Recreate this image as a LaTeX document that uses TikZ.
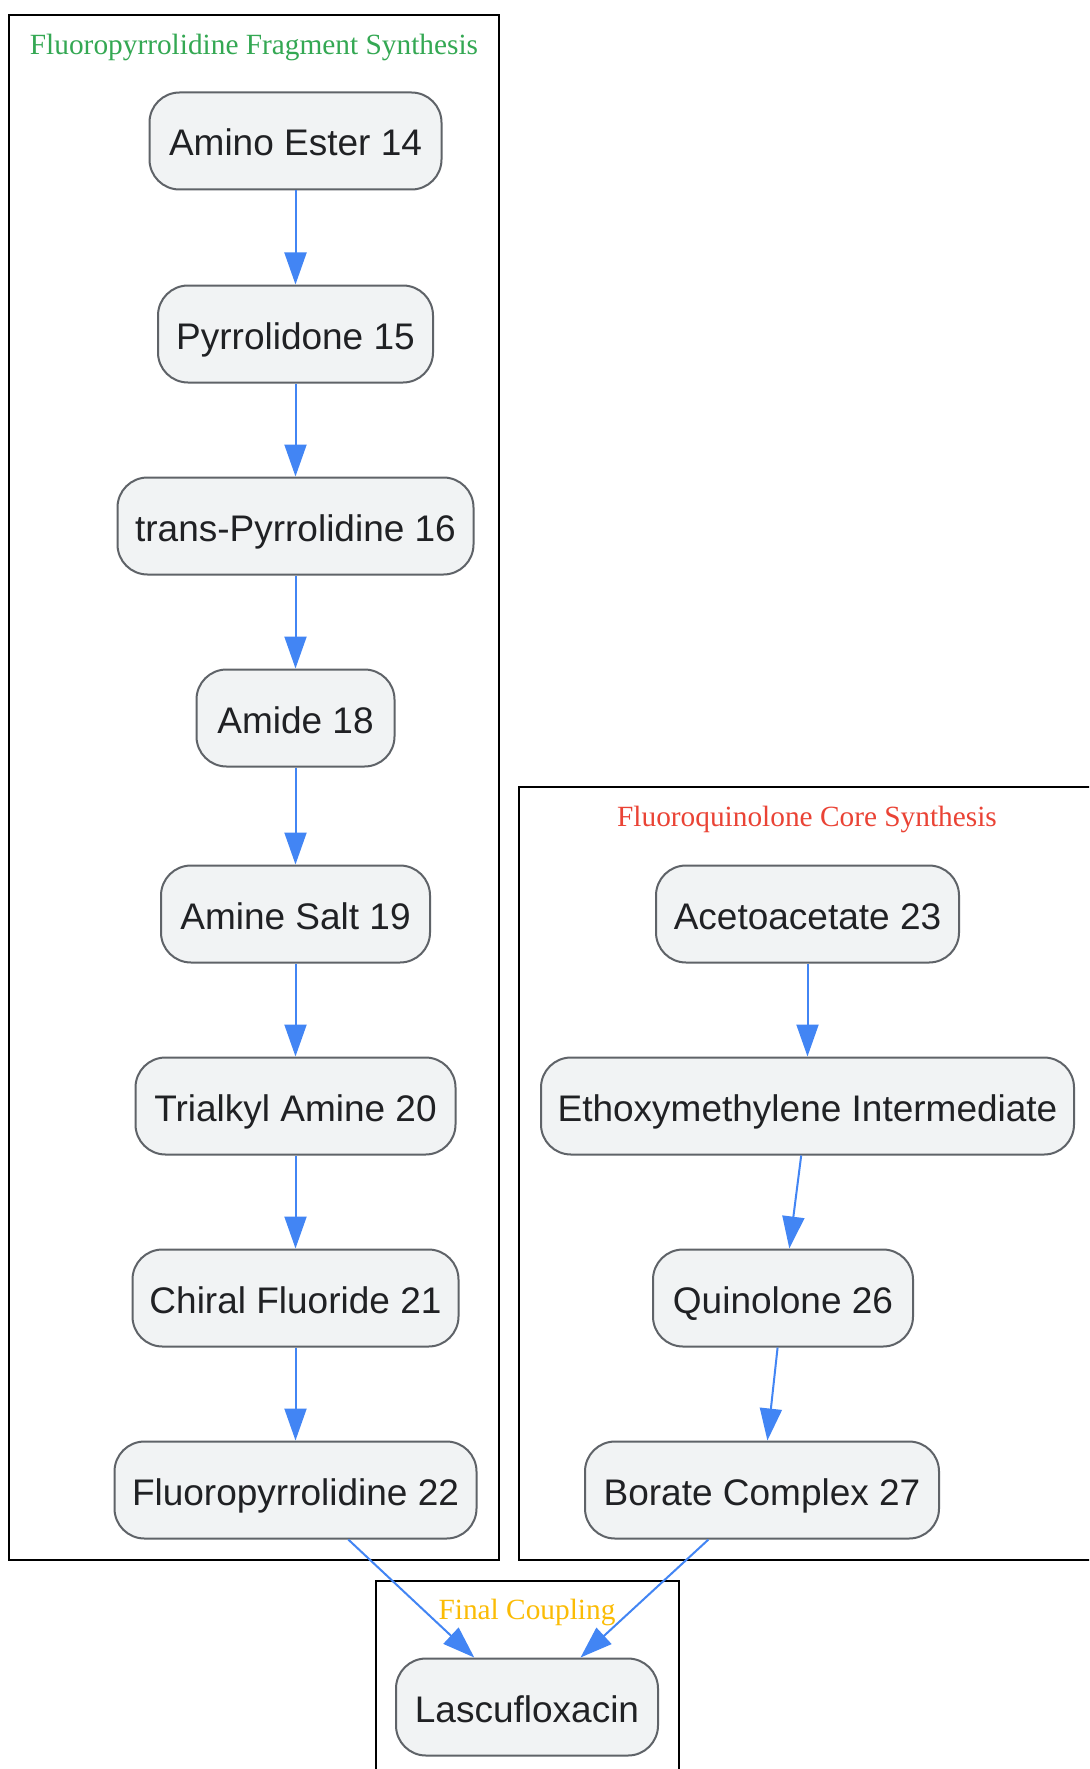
\documentclass[tikz,border=0pt]{standalone}
\usepackage{fontspec}
\setmainfont{Liberation Serif}
\newfontfamily\nodefont{Liberation Sans}
\usetikzlibrary{arrows.meta}
\definecolor{nodefill}{HTML}{F1F3F4}
\definecolor{nodeborder}{HTML}{5F6368}
\definecolor{nodetext}{HTML}{202124}
\definecolor{edgeblue}{HTML}{4285F4}
\definecolor{lblgreen}{HTML}{34A853}
\definecolor{lblred}{HTML}{EA4335}
\definecolor{lblamber}{HTML}{FBBC05}
\tikzset{
  stepbox/.style={draw=nodeborder, line width=1.5pt, fill=nodefill, text=nodetext,
    rounded corners=22.5pt, minimum height=72.75pt, inner sep=0pt,
    text height=26pt, text depth=3.5pt,
    font=\nodefont\fontsize{27.75pt}{32pt}\selectfont},
  bw/.style={minimum width=#1*0.75pt},
  flow/.style={draw=edgeblue, line width=1.5pt, -{Triangle[length=24pt,width=16.5pt]}},
  clusterbox/.style={draw=black, line width=1.6pt},
  clusterlbl/.style={font=\fontsize{22pt}{26pt}\selectfont, inner sep=0pt}
}
\begin{document}
\begin{tikzpicture}[x=0.75pt,y=-0.75pt]
\useasboundingbox (0,0) rectangle (1089,1769);
\clip (0,0) rectangle (1089,1769);
\fill[white] (0,0) rectangle (1089,1769);
% clusters
\draw[clusterbox] (9,15) rectangle (499,1560);
\draw[clusterbox] (519,787) rectangle (1100,1560);
\draw[clusterbox] (376,1581) rectangle (679,1800);
\node[clusterlbl, text=lblgreen] (l1) at (254,47.5) {Fluoropyrrolidine Fragment Synthesis};
\node[clusterlbl, text=lblred] (l2) at (807,819) {Fluoroquinolone Core Synthesis};
\node[clusterlbl, text=lblamber] (l3) at (527,1612) {Final Coupling};
% left column
\node[stepbox, bw=292] (a14) at (295.5,141) {Amino Ester 14};
\node[stepbox, bw=275] (p15) at (295.5,334) {Pyrrolidone 15};
\node[stepbox, bw=356] (t16) at (295.5,526) {trans-Pyrrolidine 16};
\node[stepbox, bw=198] (a18) at (295.5,718) {Amide 18};
\node[stepbox, bw=269] (s19) at (295.5,914) {Amine Salt 19};
\node[stepbox, bw=320] (t20) at (295.5,1106) {Trialkyl Amine 20};
\node[stepbox, bw=326] (c21) at (295.5,1298) {Chiral Fluoride 21};
\node[stepbox, bw=362] (f22) at (295.5,1490) {Fluoropyrrolidine 22};
% right column
\node[stepbox, bw=303] (a23) at (807.5,914) {Acetoacetate 23};
\node[stepbox, bw=533] (ei) at (807.5,1106) {Ethoxymethylene Intermediate};
\node[stepbox, bw=260] (q26) at (783,1298) {Quinolone 26};
\node[stepbox, bw=354] (b27) at (762,1490) {Borate Complex 27};
% final
\node[stepbox, bw=262] (lasc) at (527,1707) {Lascufloxacin};
% edges
\draw[flow] (a14) -- (p15);
\draw[flow] (p15) -- (t16);
\draw[flow] (t16) -- (a18);
\draw[flow] (a18) -- (s19);
\draw[flow] (s19) -- (t20);
\draw[flow] (t20) -- (c21);
\draw[flow] (c21) -- (f22);
\draw[flow] (a23) -- (ei);
\draw[flow] (ei) -- (q26);
\draw[flow] (q26) -- (b27);
\draw[flow] (f22) -- (lasc);
\draw[flow] (b27) -- (lasc);
\end{tikzpicture}
\end{document}
